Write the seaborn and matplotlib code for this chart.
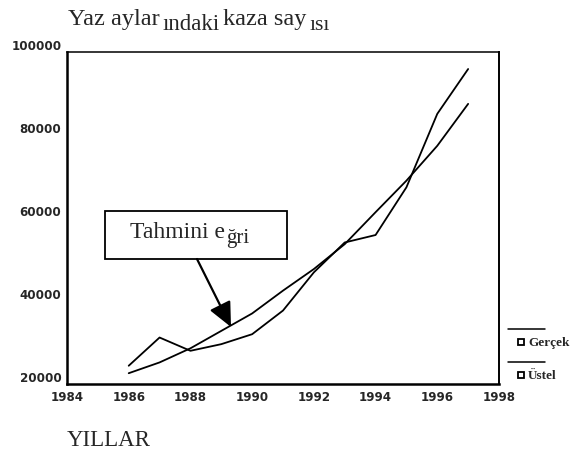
import matplotlib
matplotlib.use("Agg")
import matplotlib.pyplot as plt
from matplotlib.lines import Line2D
from matplotlib.patches import Rectangle
import seaborn as sns
import pandas as pd

# ---- data ----
years = [1986, 1987, 1988, 1989, 1990, 1991, 1992, 1993, 1994, 1995, 1996, 1997]
gercek = [24400, 31200, 28000, 29600, 32000, 37700, 46900, 54100, 55900, 67400, 85100, 95900]
ustel = [22600, 25200, 28600, 32800, 37000, 42500, 47700, 53700, 61400, 69000, 77400, 87500]
series_names = ["Gerçek", "Üstel"]
x_ticks = [1984, 1986, 1988, 1990, 1992, 1994, 1996, 1998]
y_ticks = [20000, 40000, 60000, 80000, 100000]

df = pd.DataFrame({
    "Yıl": years * 2,
    "Kaza": gercek + ustel,
    "Seri": [series_names[0]] * len(years) + [series_names[1]] * len(years),
})

sns.set_style("white")
plt.rcParams["font.family"] = ["Liberation Serif", "DejaVu Serif"]

FW, FH = 584, 452
fig = plt.figure(figsize=(FW / 100, FH / 100), dpi=100)
renderer = fig.canvas.get_renderer()


def fx(px):
    return px / FW


def fy(py):
    return 1 - py / FH


def chain_text(parts, x0, gap=2):
    """parts: list of (text, baseline_px, fontsize); placed left to right."""
    x = x0
    for s, py, size in parts:
        t = fig.text(fx(x), fy(py), s, fontsize=size, va="baseline", ha="left")
        w = t.get_window_extent(renderer=renderer).width
        x += w + gap


ax = fig.add_axes([fx(67), fy(385), fx(499) - fx(67), fy(53) - fy(385)])
sns.lineplot(data=df, x="Yıl", y="Kaza", hue="Seri", palette=["black", "black"],
             linewidth=1.3, legend=False, ax=ax)

ax.set_xlim(1984, 1998)
ax.set_ylim(20000, 100000)
ax.set_xticks(x_ticks)
ax.set_yticks(y_ticks)
ax.set_xticklabels([str(t) for t in x_ticks])
ax.set_yticklabels([str(t) for t in y_ticks])
ax.set_xlabel("")
ax.set_ylabel("")
for lab in ax.get_xticklabels() + ax.get_yticklabels():
    lab.set_fontfamily("DejaVu Sans")
    lab.set_fontweight("bold")
    lab.set_fontsize(8.6)
for lab in ax.get_yticklabels():
    lab.set_va("bottom")
ax.tick_params(axis="both", direction="out", length=2.5, width=1.2, color="black", pad=2)
ax.tick_params(axis="y", pad=1.5)
for side, lw in [("left", 1.8), ("bottom", 1.8), ("top", 1.1), ("right", 1.4)]:
    ax.spines[side].set_visible(True)
    ax.spines[side].set_linewidth(lw)
    ax.spines[side].set_color("black")

# ---- title (with lowered parts as in the scan) ----
chain_text([("Yaz aylar", 25, 17.5), ("ındaki", 30, 16.5), ("kaza say", 25, 17.5), ("ısı", 30, 15.5)],
           68, gap=3)

# ---- x axis caption ----
fig.text(fx(67), fy(446), "YILLAR", fontsize=16.5, va="baseline", ha="left")

# ---- annotation box ----
fig.add_artist(Rectangle((fx(105), fy(260)), fx(287) - fx(105), fy(212) - fy(260),
                         transform=fig.transFigure, fill=False, lw=1.3, ec="black"))
chain_text([("Tahmini e", 238, 17), ("ğri", 243, 15)], 130, gap=1)
ax.annotate("", xy=(fx(231), fy(328)), xycoords="figure fraction",
            xytext=(fx(197), fy(260)), textcoords="figure fraction",
            arrowprops=dict(arrowstyle="-|>,head_length=0.75,head_width=0.35",
                            mutation_scale=20, lw=1.6, color="black",
                            shrinkA=0, shrinkB=0))

# ---- legend (drawn like the scan: line above, marker + label below) ----
for i, name in enumerate(series_names):
    ly = 330 + i * 33
    fig.add_artist(Line2D([fx(508), fx(545)], [fy(ly), fy(ly)], transform=fig.transFigure,
                          color="black", lw=1.1))
    fig.add_artist(Line2D([fx(521)], [fy(ly + 13)], transform=fig.transFigure,
                          marker="s", ms=4, mfc="white", mec="black", mew=1.3, ls="none"))
    fig.text(fx(528), fy(ly + 13), name, fontsize=9.5, fontweight="bold",
             va="center", ha="left")

fig.savefig("out.png", dpi=100)
